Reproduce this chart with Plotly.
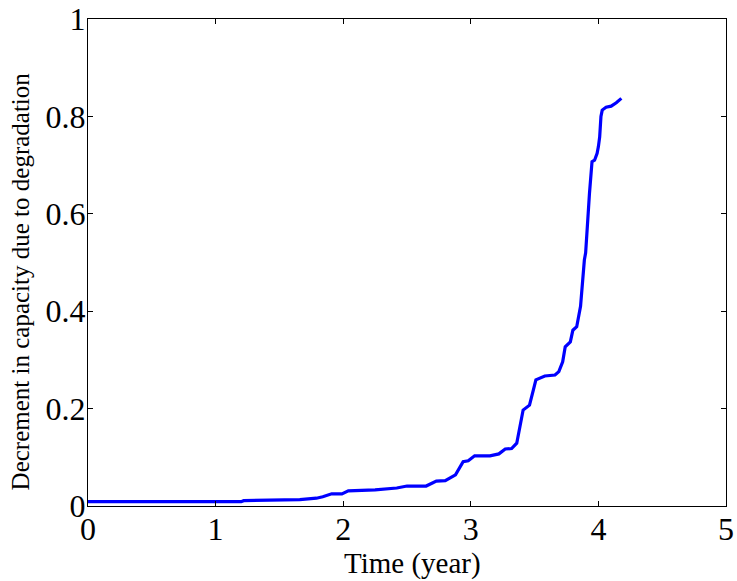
import plotly.graph_objects as go

time_year = [0.0, 1.2, 1.22, 1.66, 1.79, 1.84, 1.91, 1.99, 2.04, 2.25, 2.42, 2.50, 2.65,
             2.73, 2.80, 2.88, 2.94, 2.98, 3.03, 3.15, 3.22, 3.27, 3.32, 3.36, 3.41,
             3.46, 3.49, 3.51, 3.58, 3.66, 3.69, 3.72, 3.74, 3.78, 3.80, 3.83, 3.86,
             3.87, 3.88, 3.89, 3.90, 3.91, 3.92, 3.93, 3.94, 3.95, 3.97, 3.99, 4.00,
             4.01, 4.02, 4.03, 4.06, 4.10, 4.14, 4.18]
decrement = [0.009, 0.009, 0.011, 0.013, 0.016, 0.019, 0.025, 0.025, 0.031, 0.033, 0.037,
             0.041, 0.041, 0.051, 0.052, 0.064, 0.091, 0.093, 0.103, 0.103, 0.107, 0.117,
             0.118, 0.129, 0.197, 0.207, 0.238, 0.259, 0.267, 0.269, 0.276, 0.296, 0.327,
             0.337, 0.361, 0.368, 0.41, 0.445, 0.47, 0.505, 0.52, 0.553, 0.601, 0.642,
             0.676, 0.707, 0.710, 0.724, 0.738, 0.758, 0.800, 0.813, 0.819, 0.821,
             0.828, 0.837]

x_ticks = [0, 1, 2, 3, 4, 5]
y_ticks = [0, 0.2, 0.4, 0.6, 0.8, 1]
x_title = "Time (year)"
y_title = "Decrement in capacity due to degradation"

font = "Liberation Serif"

fig = go.Figure()
fig.add_trace(go.Scatter(x=time_year, y=decrement, mode="lines",
                         line=dict(color="#0000FF", width=3.2), showlegend=False))

axis_common = dict(showline=True, mirror="ticks", linecolor="black", linewidth=1,
                   ticks="inside", ticklen=5, tickcolor="black", showgrid=False,
                   zeroline=False, automargin=False,
                   tickfont=dict(family=font, size=32, color="black"))

fig.update_xaxes(range=[0, 5], tickvals=x_ticks, ticktext=[str(v) for v in x_ticks],
                 ticklabelstandoff=-5, **axis_common)
fig.update_yaxes(range=[0, 1], tickvals=y_ticks, ticktext=[f"{v:g}" for v in y_ticks],
                 ticklabelstandoff=-5, **axis_common)

fig.add_annotation(text=x_title, xref="paper", yref="paper", x=0.509, y=-0.119,
                   xanchor="center", yanchor="middle", showarrow=False,
                   font=dict(family=font, size=29, color="black"))
fig.add_annotation(text=y_title, xref="paper", yref="paper", x=-0.106, y=0.462,
                   xanchor="center", yanchor="middle", showarrow=False, textangle=-90,
                   font=dict(family=font, size=25, color="black"))

fig.update_layout(width=737, height=581, margin=dict(l=88, r=11, t=19, b=75),
                  plot_bgcolor="white", paper_bgcolor="white",
                  font=dict(family=font, color="black"))

fig.write_html("out.html")
